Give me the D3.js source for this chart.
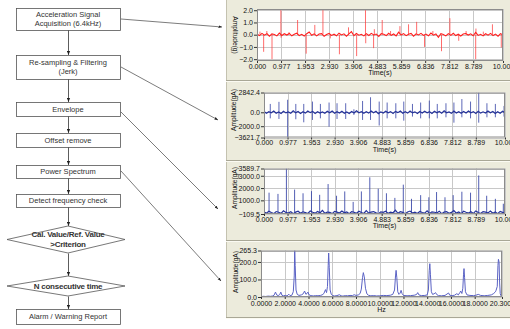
<!DOCTYPE html>
<html>
<head>
<meta charset="utf-8">
<script src="https://cdn.jsdelivr.net/npm/d3@7"></script>
<style>
  body { margin: 0; background: #fff; }
  svg { display: block; font-family: "Liberation Sans", Arial, sans-serif; }
</style>
</head>
<body>
<svg id="chart" width="510" height="329"></svg>
<script>
// ---- flow chart steps ----
const flowSteps = [
  ['Acceleration Signal', 'Acquisition (6.4kHz)'],
  ['Re-sampling & Filtering', '(Jerk)'],
  ['Envelope'],
  ['Offset  remove'],
  ['Power Spectrum'],
  ['Detect frequency check'],
  ['Cal. Value/Ref. Value', '>Criterion'],
  ['N consecutive time'],
  ['Alarm / Warning Report']
];
const flowShapes = ['box', 'box', 'box', 'box', 'box', 'box', 'diamond', 'diamond', 'box'];

// ---- time axis ticks (panels 1-3) ----
const timeTicks = [0, 0.977, 1.953, 2.930, 3.906, 4.883, 5.859, 6.836, 7.812, 8.789, 10];

// ---- panel 1: acceleration (g) ----
const accTicks = [2, 1, 0, -1, -2];
const accNoise = [0.05,-0.08,0.11,-0.04,0.09,-0.12,0.06,0.02,-0.1,0.13,-0.06,0.08,-0.03,0.1,-0.09,0.04,0.12,-0.07,0.03,-0.11,
  0.08,0.22,-0.05,0.07,-0.1,0.05,0.09,-0.13,0.02,0.1,-0.06,0.04,-0.09,0.12,-0.02,0.07,-0.12,0.06,0.25,-0.08,
  0.1,-0.04,0.03,-0.1,0.09,-0.06,0.11,-0.02,0.05,-0.14,0.08,0.03,-0.07,0.12,-0.05,0.06,-0.1,0.2,-0.03,0.09,
  -0.08,0.04,0.1,-0.12,0.07,-0.02,0.11,-0.06,0.05,-0.09,0.13,-0.04,0.06,-0.22,0.08,0.02,-0.1,0.09,-0.05,0.12,
  -0.07,0.04,-0.11,0.06,0.1,-0.03,0.07,-0.09,0.18,-0.06,0.03,-0.1,0.08,-0.04,0.11,-0.07,0.05,-0.12,0.09,-0.02];
const accSpikeTimes = [0.12,0.27,0.4,0.61,0.97,0.98,1.3,1.65,2.0,2.35,2.68,2.98,3.35,3.72,4.05,4.41,4.42,4.74,4.77,5.09,
  5.43,5.81,6.16,6.49,6.81,7.15,7.5,7.84,8.2,8.5,8.89,8.9,9.2,9.57,9.93];
const accSpikeValues = [0.25,-1.4,0.3,-2.0,2.0,-0.25,0.2,1.2,-1.55,0.8,2.0,-0.3,-1.6,0.6,-1.75,2.0,-0.7,-1.1,0.45,1.2,
  0.3,0.7,0.85,1.05,-1.0,0.3,-1.35,1.35,-0.5,0.3,-2.0,0.5,0.25,0.85,-1.05];

// ---- panel 2: jerk (gA) ----
const jerkTicks = [2842.4, 0, -2000, -3621.7];
const jerkNoise = [120,-150,90,-60,180,-130,40,-170,150,-90,60,-140,200,-80,110,-160,70,-120,170,-50,
  130,-180,90,-110,60,-150,140,-70,190,-130,80,-100,160,-140,50,-170,120,-90,210,-60,
  100,-150,70,-120,180,-80,140,-190,60,-110,150,-70,100,-160,130,-50,170,-140,80,-120,
  190,-90,60,-170,120,-100,150,-60,90,-180,140,-80,110,-130,200,-70,60,-150,170,-110,
  80,-140,130,-90,180,-60,100,-170,150,-120,70,-100,190,-80,120,-160,90,-130,160,-70];
const jerkSpikeTimes = [0.26,0.62,0.98,1.32,1.65,2.01,2.34,2.70,3.03,3.39,3.73,4.09,4.42,4.78,5.11,5.47,5.80,6.16,6.50,6.86,
  7.19,7.55,7.88,8.21,8.57,8.91,9.25,9.60,9.96];
const jerkSpikeUp = [1200,1500,1800,1200,1200,1540,1200,1400,1300,1300,430,1630,2160,1540,1400,1300,1540,1200,1400,1680,
  1200,1300,1400,1900,1540,2842,1300,1200,910];
const jerkSpikeDown = [-870,-960,-3621,-1000,-1440,-1100,-870,-2070,-960,-960,-380,-1100,-1100,-1900,-870,-870,-1200,-620,-870,-870,
  -870,-720,-1490,-720,-870,-1490,-720,-720,-620];

// ---- panel 3: envelope (gA) ----
const envTicks = [3589.7, 3000, 2000, 1000, -109.5];
const envNoise = [60,-40,120,10,-80,90,30,-60,150,20,-30,80,-90,40,110,-50,70,0,-70,130,
  30,-40,90,-20,180,-60,50,20,-80,100,40,-30,140,-10,60,-90,80,30,-50,120,
  10,-70,160,-40,50,90,-20,-80,70,30,110,-60,40,-10,200,-50,80,20,-90,60,
  130,-30,40,-70,100,10,-40,150,-60,70,30,-20,120,-80,50,90,-50,20,170,-40,
  60,-90,110,30,-30,80,-60,140,10,-70,90,40,-20,130,-50,60,-80,100,20,-40];
const envSpikeTimes = [0.21,0.58,0.93,1.27,1.62,1.97,2.31,2.66,3.01,3.35,3.70,4.04,4.39,4.74,5.08,5.43,5.78,6.12,6.50,6.84,
  7.16,7.51,7.85,8.21,8.57,8.91,9.24,9.60,9.93];
const envSpikeValues = [1625,1525,3589,1875,1575,1750,1450,2325,1375,1725,875,1725,2875,1950,1575,1200,2275,1125,1425,1250,
  1675,1250,1425,1700,1625,3025,1375,1125,725];

// ---- panel 4: power spectrum ----
const hzTicks = [0, 2, 4, 6, 8, 10, 12, 14, 16, 18, 20.3];
const specTicks = [265.3, 200, 100, 0];
const specFreq = [0.0,0.2,0.4,0.6,0.8,1.0,1.1,1.22,1.32,1.45,1.58,1.67,1.76,1.9,2.05,2.2,2.34,2.45,2.6,2.72,
  2.8,2.84,2.88,2.95,3.05,3.2,3.4,3.55,3.67,3.78,3.88,3.95,4.05,4.2,4.4,4.6,4.8,5.0,5.15,5.3,
  5.43,5.52,5.6,5.66,5.70,5.75,5.82,5.92,6.05,6.2,6.4,6.6,6.75,6.9,7.1,7.3,7.5,7.7,7.85,8.0,
  8.2,8.35,8.45,8.55,8.62,8.7,8.8,8.92,9.05,9.25,9.5,9.75,10.0,10.3,10.6,10.9,11.1,11.25,11.33,11.38,
  11.44,11.52,11.62,11.72,11.8,11.88,12.0,12.3,12.6,12.9,13.1,13.2,13.3,13.5,13.8,14.0,14.1,14.17,14.22,14.27,
  14.35,14.45,14.58,14.7,14.8,14.95,15.2,15.5,15.8,15.9,16.1,16.3,16.5,16.62,16.75,16.82,16.92,17.0,17.06,17.1,
  17.15,17.22,17.35,17.6,17.9,18.1,18.3,18.5,18.8,19.1,19.4,19.6,19.75,19.8,19.9,19.96,20.0,20.05,20.1,20.15,
  20.2,20.3];
const specAmp = [2,4,3,5,4,6,10,28,12,8,14,28,10,7,9,6,16,8,10,30,
  120,265,180,40,15,9,12,18,34,16,20,28,12,8,6,8,7,9,12,20,
  42,25,60,180,251,170,40,15,8,6,8,13,7,5,8,7,9,8,13,9,
  12,20,45,110,139,115,50,18,10,7,8,6,7,9,8,10,15,40,120,152,
  110,30,15,22,38,20,9,7,8,10,14,25,12,8,9,12,40,150,190,130,
  30,15,18,25,14,8,7,9,23,10,8,10,19,12,25,34,20,50,130,162,
  110,30,12,9,8,10,15,9,7,9,12,20,30,38,60,180,215,200,80,20,
  8,5];

const svg = d3.select('#chart');
const ink = '#333';

// ---- right-hand panel backgrounds ----
svg.append('rect').attr('x', 226).attr('y', 0).attr('width', 284).attr('height', 318).attr('fill', '#ecebdc');
svg.append('line').attr('x1', 226.5).attr('x2', 226.5).attr('y1', 0).attr('y2', 318).attr('stroke', '#c4c2b0');
[80.5, 160.5, 240.5, 317.5].forEach(y => {
  svg.append('line').attr('x1', 226).attr('x2', 510).attr('y1', y).attr('y2', y).attr('stroke', '#a9a796');
  svg.append('line').attr('x1', 226).attr('x2', 510).attr('y1', y + 1).attr('y2', y + 1).attr('stroke', '#fbfaf2');
});

// ---- flow chart ----
const defs = svg.append('defs');
defs.append('marker').attr('id', 'arr').attr('viewBox', '0 0 10 10').attr('refX', 10).attr('refY', 5)
  .attr('markerWidth', 5).attr('markerHeight', 5).attr('orient', 'auto')
  .append('path').attr('d', 'M0,1 L10,5 L0,9 Z').attr('fill', '#222');

const flowLayout = [
  { y0: 8, y1: 30 }, { y0: 55, y1: 79 }, { y0: 102, y1: 116 }, { y0: 133, y1: 147 },
  { y0: 165, y1: 178 }, { y0: 194, y1: 207 }, { y0: 226, y1: 253 }, { y0: 276, y1: 296 }, { y0: 309, y1: 324 }
];
const fx0 = 16, fx1 = 120, fcx = 68;

flowSteps.forEach((lines, i) => {
  const L = flowLayout[i];
  const cy = (L.y0 + L.y1) / 2;
  if (flowShapes[i] === 'box') {
    svg.append('rect').attr('x', fx0 + 0.5).attr('y', L.y0 + 0.5).attr('width', fx1 - fx0).attr('height', L.y1 - L.y0)
      .attr('fill', '#fff').attr('stroke', '#555').attr('stroke-width', 0.8);
  } else {
    svg.append('path').attr('d', `M7,${cy} L${fcx},${L.y0} L125,${cy} L${fcx},${L.y1} Z`)
      .attr('fill', '#fff').attr('stroke', '#555').attr('stroke-width', 0.8);
  }
  const bold = flowShapes[i] === 'diamond';
  const lh = bold ? 9.5 : 8.5;
  lines.forEach((t, j) => {
    svg.append('text').attr('x', fcx).attr('y', cy + (j - (lines.length - 1) / 2) * lh + 2.7)
      .attr('text-anchor', 'middle').attr('font-size', bold ? 8 : 7.5)
      .attr('font-weight', bold ? 'bold' : 'normal').attr('letter-spacing', bold ? -0.25 : 0)
      .attr('fill', ink).text(t);
  });
  if (i < flowSteps.length - 1) {
    svg.append('line').attr('x1', fcx + 0.5).attr('x2', fcx + 0.5).attr('y1', L.y1 + 0.5).attr('y2', flowLayout[i + 1].y0)
      .attr('stroke', '#333').attr('stroke-width', 0.8).attr('marker-end', 'url(#arr)');
  }
});

// connectors from steps to the panels
[[121, 19, 222, 27], [121, 67, 218, 120], [121, 112, 218, 209], [121, 171, 221, 281]].forEach(c => {
  svg.append('line').attr('x1', c[0]).attr('y1', c[1]).attr('x2', c[2]).attr('y2', c[3])
    .attr('stroke', '#444').attr('stroke-width', 0.7).attr('marker-end', 'url(#arr)');
});

// ---- generic panel ----
function drawPanel(cfg) {
  const x = d3.scaleLinear().domain(cfg.xDomain).range(cfg.xRange);
  const y = d3.scaleLinear().domain(cfg.yDomain).range(cfg.yRange);
  const [px0, px1] = cfg.xRange, [py1, py0] = cfg.yRange;
  const g = svg.append('g');

  g.append('rect').attr('x', px0).attr('y', py0).attr('width', px1 - px0).attr('height', py1 - py0).attr('fill', '#fff');

  // grid
  g.selectAll('.vg').data(cfg.xTicks).join('line')
    .attr('x1', d => Math.round(x(d)) + 0.5).attr('x2', d => Math.round(x(d)) + 0.5)
    .attr('y1', py0).attr('y2', py1).attr('stroke', '#c8c8c8').attr('stroke-width', 1);
  g.selectAll('.hg').data(cfg.yTicks).join('line')
    .attr('y1', d => Math.round(y(d)) + 0.5).attr('y2', d => Math.round(y(d)) + 0.5)
    .attr('x1', px0).attr('x2', px1).attr('stroke', '#c8c8c8').attr('stroke-width', 1);

  const clipId = 'clip' + cfg.id;
  defs.append('clipPath').attr('id', clipId).append('rect')
    .attr('x', px0).attr('y', py0).attr('width', px1 - px0).attr('height', py1 - py0);
  const plot = g.append('g').attr('clip-path', `url(#${clipId})`);
  cfg.draw(plot, x, y);

  g.append('rect').attr('x', px0 + 0.5).attr('y', py0 + 0.5).attr('width', px1 - px0 - 1).attr('height', py1 - py0 - 1)
    .attr('fill', 'none').attr('stroke', '#8c8c8c').attr('stroke-width', 1);

  // axes
  const yAxis = d3.axisLeft(y).tickValues(cfg.yTicks).tickFormat(d3.format('.1f')).tickSize(3).tickPadding(1);
  const ya = g.append('g').attr('transform', `translate(${px0},0)`).call(yAxis);
  const xAxis = d3.axisBottom(x).tickValues(cfg.xTicks).tickFormat(d3.format(cfg.xFmt)).tickSize(2).tickPadding(cfg.xPad || 1);
  const xa = g.append('g').attr('transform', `translate(0,${py1})`).call(xAxis);
  [ya, xa].forEach(a => {
    a.select('.domain').remove();
    a.selectAll('line').attr('stroke', '#333');
    a.selectAll('text').attr('font-size', 7).attr('fill', '#111').attr('font-family', '"Liberation Sans", Arial, sans-serif');
  });

  g.append('text').attr('x', (px0 + px1) / 2).attr('y', py1 + 14 + (cfg.xPad ? 1 : 0)).attr('text-anchor', 'middle')
    .attr('font-size', 7).attr('fill', '#111').text(cfg.xTitle);
  g.append('text').attr('transform', `translate(${cfg.yTitlePos[0]},${cfg.yTitlePos[1]}) rotate(${cfg.yTitleRot})`)
    .attr('text-anchor', 'middle').attr('dy', '0.35em').attr('font-size', 6.6).attr('fill', '#111').text(cfg.yTitle);
}

function spikes(plot, x, y, times, vals, color, opacity) {
  plot.selectAll(null).data(times).join('line')
    .attr('x1', d => x(d)).attr('x2', d => x(d))
    .attr('y1', y(0)).attr('y2', (d, i) => y(vals[i]))
    .attr('stroke', color).attr('stroke-width', 1).attr('stroke-opacity', opacity);
}
function noise(plot, x, y, vals, color, width) {
  const n = vals.length;
  plot.append('path').datum(vals)
    .attr('d', d3.line().x((d, i) => x(i * 10 / (n - 1))).y(d => y(d)))
    .attr('fill', 'none').attr('stroke', color).attr('stroke-width', width);
}

// panel 1
drawPanel({
  id: 1, xDomain: [0, 10], xRange: [257, 503], yDomain: [-2.15, 2.1], yRange: [61, 9],
  xTicks: timeTicks, xFmt: '.3f', yTicks: accTicks, xTitle: 'Time(s)',
  yTitle: 'Amplitude(g)', yTitlePos: [235, 35], yTitleRot: 90,
  draw: (p, x, y) => {
    spikes(p, x, y, accSpikeTimes, accSpikeValues, '#ff3b3b', 0.75);
    noise(p, x, y, accNoise, '#ff1e1e', 1.1);
  }
});

// panel 2
drawPanel({
  id: 2, xDomain: [0, 10], xRange: [264, 505], yDomain: [-3621.7, 2842.4], yRange: [137.5, 92.5],
  xTicks: timeTicks, xFmt: '.3f', yTicks: jerkTicks, xTitle: 'Time(s)',
  yTitle: 'Amplitude(gA)', yTitlePos: [234, 110], yTitleRot: -90,
  draw: (p, x, y) => {
    spikes(p, x, y, jerkSpikeTimes, jerkSpikeUp, '#3442a6', 0.8);
    spikes(p, x, y, jerkSpikeTimes, jerkSpikeDown, '#3442a6', 0.8);
    noise(p, x, y, jerkNoise, '#24329a', 1.2);
  }
});

// panel 3
drawPanel({
  id: 3, xDomain: [0, 10], xRange: [264, 505], yDomain: [-109.5, 3589.7], yRange: [214, 168.5],
  xTicks: timeTicks, xFmt: '.3f', yTicks: envTicks, xTitle: 'Time(s)',
  yTitle: 'Amplitude(gA)', yTitlePos: [235, 188], yTitleRot: -90,
  draw: (p, x, y) => {
    spikes(p, x, y, envSpikeTimes, envSpikeValues, '#3442a6', 0.85);
    noise(p, x, y, envNoise, '#24329a', 1.2);
  }
});

// panel 4
drawPanel({
  id: 4, xDomain: [0, 20.3], xRange: [261, 502], yDomain: [0, 265.3], yRange: [297, 250.5],
  xTicks: hzTicks, xFmt: '.4f', xPad: 2, yTicks: specTicks, xTitle: 'Hz',
  yTitle: 'Amplitude(gA)', yTitlePos: [236, 272], yTitleRot: -90,
  draw: (p, x, y) => {
    p.append('path').datum(specFreq)
      .attr('d', d3.line().x(d => x(d)).y((d, i) => y(specAmp[i])))
      .attr('fill', 'none').attr('stroke', '#5a62c4').attr('stroke-width', 1);
  }
});
</script>
</body>
</html>
